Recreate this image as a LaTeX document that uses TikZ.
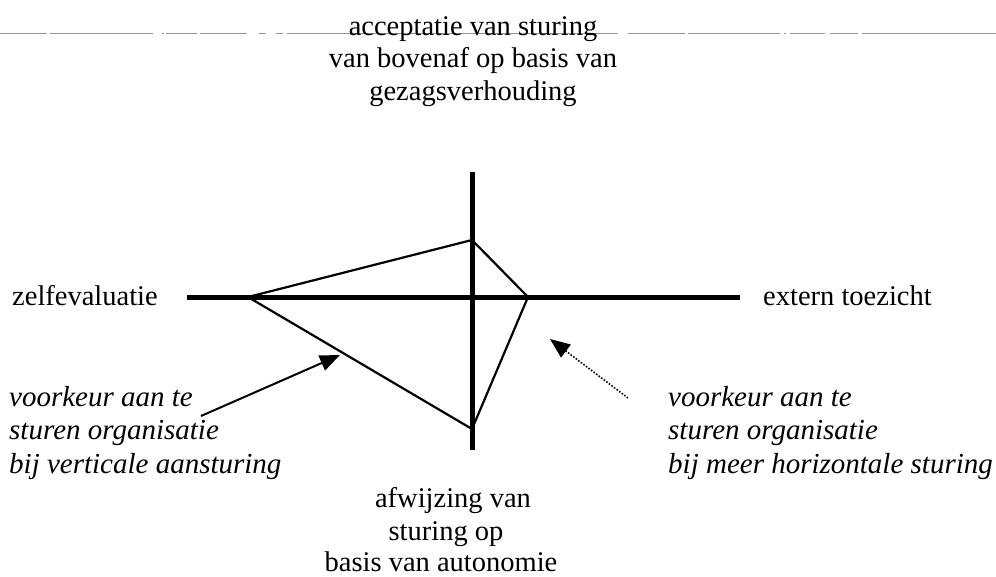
\documentclass[tikz,border=0pt]{standalone}
\usepackage{fontspec}
\setmainfont{Liberation Serif}[ItalicFont={Liberation Serif Italic}]
\usetikzlibrary{arrows.meta}

\tikzset{
  lbl/.style={inner sep=0pt, anchor=base, font=\fontsize{28.5}{32.5}\selectfont},
  lblw/.style={inner sep=0pt, anchor=base west, font=\fontsize{28.5}{32.5}\selectfont},
  lbli/.style={lblw, font=\fontsize{29}{33}\selectfont\itshape},
  axis/.style={line width=5pt, line cap=butt},
  edge/.style={line width=2.2pt, line join=miter},
  pointer/.style={line width=2pt, -{Triangle[length=20pt,width=16pt]}},
  dotpointer/.style={line width=1.6pt, dash pattern=on 1.6pt off 1.6pt,
                     -{Triangle[length=20pt,width=16pt]}},
  rule/.style={line width=1pt, draw=black!42}
}

\begin{document}
\begin{tikzpicture}[x=1pt,y=-1pt]
\useasboundingbox (0,0) rectangle (996,576);

% broken grey rule across the top
\foreach \a/\b in {0/47,50/153,162/164,166/197,200/247,259/266,276/283,287/618,
                   628/685,688/780,784/786,790/825,830/858,862/996}
  \draw[rule] (\a,33.5) -- (\b,33.5);

% axis end points
\coordinate (hl) at (187,297);
\coordinate (hr) at (740,297);
\coordinate (vt) at (472,172);
\coordinate (vb) at (472,450);

% corners of the quadrilateral
\coordinate (pl) at (248,297);
\coordinate (pt) at (472,240);
\coordinate (pr) at (528,297);
\coordinate (pb) at (472,429);

\draw[axis] (hl) -- (hr);
\draw[axis] (vt) -- (vb);
\draw[edge] (pl) -- (pt) -- (pr) -- (pb) -- cycle;

% axis labels
\node[lbl] (top1) at (473,35) {acceptatie van sturing};
\node[lbl] (top2) at (473,67.5) {van bovenaf op basis van};
\node[lbl] (top3) at (473,100) {gezagsverhouding};

\node[lbl] (bot1) at (453,507.5) {afwijzing van};
\node[lbl] (bot2) at (446,540) {sturing op};
\node[lbl] (bot3) at (441,571) {basis van autonomie};

\node[lblw] (zelf) at (12,305) {zelfevaluatie};
\node[lblw] (extern) at (763,305) {extern toezicht};

% annotations
\node[lbli] (lt1) at (9,406) {voorkeur aan te};
\node[lbli] (lt2) at (9,439.5) {sturen organisatie};
\node[lbli] (lt3) at (9,473) {bij verticale aansturing};

\node[lbli] (rt1) at (668,406) {voorkeur aan te};
\node[lbli] (rt2) at (668,439.5) {sturen organisatie};
\node[lbli] (rt3) at (668,473) {bij meer horizontale sturing};

% pointers
\coordinate (la) at ([xshift=8pt,yshift=-10pt]lt1.base east);
\coordinate (lb) at (340,355);
\draw[pointer] (la) -- (lb);

\coordinate (ra) at (628,398);
\coordinate (rb) at (550,339);
\draw[dotpointer] (ra) -- (rb);
\end{tikzpicture}
\end{document}
